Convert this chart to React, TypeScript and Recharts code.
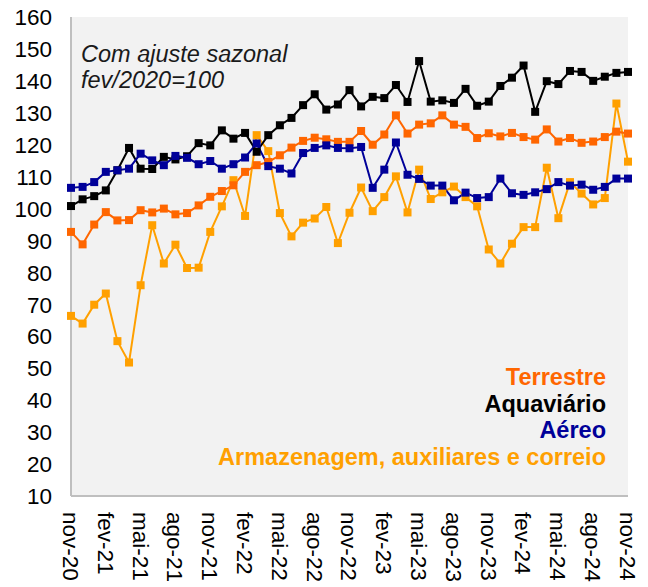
import React from "react";
import { LineChart, Line, XAxis, YAxis, CartesianGrid } from "recharts";

const months = [
  "nov-20","dez-20","jan-21","fev-21","mar-21","abr-21","mai-21","jun-21","jul-21","ago-21","set-21","out-21",
  "nov-21","dez-21","jan-22","fev-22","mar-22","abr-22","mai-22","jun-22","jul-22","ago-22","set-22","out-22",
  "nov-22","dez-22","jan-23","fev-23","mar-23","abr-23","mai-23","jun-23","jul-23","ago-23","set-23","out-23",
  "nov-23","dez-23","jan-24","fev-24","mar-24","abr-24","mai-24","jun-24","jul-24","ago-24","set-24","out-24",
  "nov-24",
];

const terrestre = [
  92.7, 88.8, 95.0, 98.9, 96.3, 96.4, 99.5, 98.8, 100.0, 98.2, 98.6, 101.0,
  103.7, 105.5, 107.3, 111.5, 113.6, 114.6, 116.7, 119.1, 121.2, 122.2, 121.7, 120.9,
  120.9, 124.3, 120.0, 123.2, 129.2, 123.5, 126.3, 126.7, 129.2, 126.3, 125.6, 122.1,
  123.6, 122.6, 123.7, 122.4, 121.6, 124.8, 121.0, 122.1, 120.6, 121.0, 122.4, 124.1,
  123.5,
];

const aquaviario = [
  100.8, 102.9, 103.9, 105.7, 112.0, 119.0, 112.5, 112.4, 116.2, 115.4, 116.4, 120.5,
  119.8, 124.5, 121.9, 123.7, 117.8, 123.0, 126.1, 128.4, 132.4, 135.8, 131.0, 132.6,
  137.1, 132.0, 135.0, 134.6, 138.7, 133.4, 146.2, 133.5, 133.9, 133.1, 137.5, 132.2,
  133.5, 138.4, 141.0, 144.8, 130.3, 139.9, 139.0, 143.1, 142.8, 140.0, 141.3, 142.5,
  142.8,
];

const aereo = [
  106.5, 106.8, 108.3, 111.5, 112.0, 112.5, 117.2, 115.1, 113.6, 116.5, 115.9, 113.9,
  114.9, 112.5, 113.9, 116.0, 120.4, 113.3, 112.5, 111.0, 117.4, 119.0, 119.8, 119.0,
  118.9, 119.3, 106.5, 112.2, 120.7, 110.6, 109.3, 107.2, 107.2, 102.6, 105.0, 103.3,
  103.6, 109.4, 104.8, 104.3, 105.1, 106.1, 108.3, 107.2, 107.5, 105.9, 106.8, 109.4,
  109.4,
];

const armazenagem = [
  66.4, 64.0, 69.9, 73.4, 58.5, 51.8, 76.0, 94.8, 82.8, 88.7, 81.4, 81.5,
  92.7, 100.7, 108.9, 97.7, 123.0, 118.0, 98.6, 91.3, 95.6, 96.9, 100.5, 89.2,
  98.7, 106.6, 99.2, 103.6, 110.1, 98.8, 112.2, 103.0, 105.1, 106.9, 103.6, 100.7,
  87.2, 82.8, 89.0, 94.2, 94.2, 112.8, 97.0, 108.3, 104.7, 101.3, 103.3, 132.9,
  114.7,
];

const yTicks = [10, 20, 30, 40, 50, 60, 70, 80, 90, 100, 110, 120, 130, 140, 150, 160];

const seriesNames = ["Terrestre", "Aquaviário", "Aéreo", "Armazenagem, auxiliares e correio"];
const annotation = ["Com ajuste sazonal", "fev/2020=100"];

const COLORS = {
  terrestre: "#FF6600",
  aquaviario: "#000000",
  aereo: "#000099",
  armazenagem: "#FFA000",
};

const data = months.map((m, i) => ({
  month: m,
  terrestre: terrestre[i],
  aquaviario: aquaviario[i],
  aereo: aereo[i],
  armazenagem: armazenagem[i],
}));

const FONT = "'Liberation Sans', Arial, sans-serif";

const square = (color: string) => (props: any) => {
  const { cx, cy, index } = props;
  if (cx == null || cy == null) return <g key={`e-${index}`} />;
  return <rect key={`s-${index}`} x={cx - 4} y={cy - 4} width={8} height={8} fill={color} />;
};

const XTick = (props: any) => {
  const { x, y, payload } = props;
  return (
    <g transform={`translate(${x},${y})`}>
      <text
        transform="rotate(90)"
        x={0}
        y={0}
        dy="0.36em"
        textAnchor="start"
        fontFamily={FONT}
        fontSize={22.5}
        fill="#000"
      >
        {payload.value}
      </text>
    </g>
  );
};

const YTick = (props: any) => {
  const { x, y, payload } = props;
  return (
    <text x={x} y={y} dy="0.36em" textAnchor="end" fontFamily={FONT} fontSize={22.5} fill="#000">
      {payload.value}
    </text>
  );
};

const legendColors = [COLORS.terrestre, COLORS.aquaviario, COLORS.aereo, COLORS.armazenagem];

export default function App() {
  return (
    <div style={{ position: "absolute", left: 0, top: 0, width: 648, height: 587, background: "#fff" }}>
      <LineChart
        width={648}
        height={587}
        data={data}
        margin={{ top: 17, right: 20, left: 0, bottom: 0 }}
      >
        <CartesianGrid horizontal={false} vertical={false} fill="#F2F2F2" stroke="none" />
        <XAxis
          dataKey="month"
          interval={2}
          height={91}
          tickSize={0}
          tickMargin={16}
          tick={<XTick />}
          axisLine={{ stroke: "#BFBFBF", strokeWidth: 2 }}
          tickLine={false}
        />
        <YAxis
          domain={[10, 160]}
          ticks={yTicks}
          width={71}
          tickSize={0}
          tickMargin={19}
          tick={<YTick />}
          axisLine={{ stroke: "#BFBFBF", strokeWidth: 2 }}
          tickLine={false}
          interval={0}
        />
        <Line
          dataKey="armazenagem"
          stroke={COLORS.armazenagem}
          strokeWidth={2}
          dot={square(COLORS.armazenagem)}
          activeDot={false}
          isAnimationActive={false}
        />
        <Line
          dataKey="aquaviario"
          stroke={COLORS.aquaviario}
          strokeWidth={2}
          dot={square(COLORS.aquaviario)}
          activeDot={false}
          isAnimationActive={false}
        />
        <Line
          dataKey="terrestre"
          stroke={COLORS.terrestre}
          strokeWidth={2}
          dot={square(COLORS.terrestre)}
          activeDot={false}
          isAnimationActive={false}
        />
        <Line
          dataKey="aereo"
          stroke={COLORS.aereo}
          strokeWidth={2}
          dot={square(COLORS.aereo)}
          activeDot={false}
          isAnimationActive={false}
        />
        <text fontFamily={FONT} fontStyle="italic" fontSize={23.5} fill="#1a1a1a">
          <tspan x={81} y={62}>{annotation[0]}</tspan>
          <tspan x={81} y={88}>{annotation[1]}</tspan>
        </text>
        {seriesNames.map((name, i) => (
          <text
            key={name}
            x={606}
            y={385 + i * 26.7}
            textAnchor="end"
            fontFamily={FONT}
            fontWeight="bold"
            fontSize={23.5}
            fill={legendColors[i]}
          >
            {name}
          </text>
        ))}
      </LineChart>
    </div>
  );
}
